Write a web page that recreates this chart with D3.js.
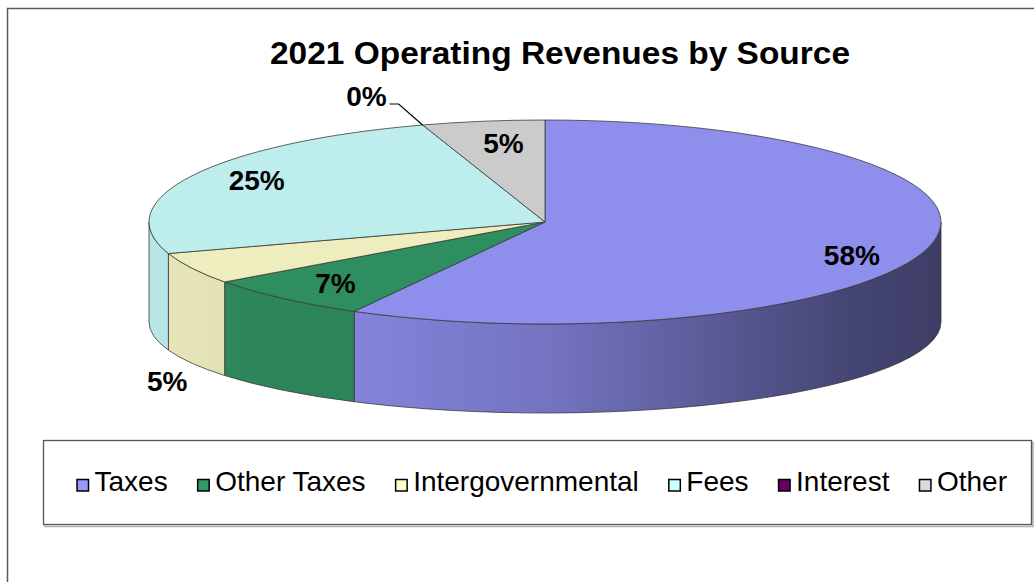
<!DOCTYPE html>
<html>
<head>
<meta charset="utf-8">
<script src="https://cdn.jsdelivr.net/npm/d3@7"></script>
<style>
  body { margin: 0; background: #fff; }
  svg { display: block; font-family: "Liberation Sans", Arial, Helvetica, sans-serif; }
</style>
</head>
<body>
<svg id="chart" width="1034" height="582"></svg>
<script>
// Revenue sources and their shares (percent)
const categories = ["Taxes", "Other Taxes", "Intergovernmental", "Fees", "Interest", "Other"];
const shares = [58, 7, 5, 25, 0, 5];
const colors = ["#9999FF", "#339966", "#FFFFCC", "#CCFFFF", "#660066", "#DADADA"];
const chartTitle = "2021 Operating Revenues by Source";

// Pie geometry: top ellipse and (perspective-flattened) bottom ellipse
const cx = 545, cy = 222, rx = 396, ry = 102;
const cyb = 322, ryb = 91;

// Label layout: slices whose labels sit outside, and small placement tweaks
const outsideLabel = {
  "Intergovernmental": { dx: -25, dy: 28 },
  "Interest": { leader: true }
};
const labelShift = { "Taxes": [0, 13], "Fees": [-6, -5], "Other": [8, 2] };

const svg = d3.select("#chart");
const defs = svg.append("defs");

// Outer chart border
svg.append("rect")
  .attr("x", 7.5).attr("y", 8.5).attr("width", 1200).attr("height", 800)
  .attr("fill", "none").attr("stroke", "#5a5a5a").attr("stroke-width", 1.5);

// Title
svg.append("text")
  .attr("x", 560).attr("y", 64)
  .attr("text-anchor", "middle")
  .attr("font-size", 32).attr("font-weight", "bold")
  .attr("textLength", 580).attr("lengthAdjust", "spacingAndGlyphs")
  .attr("fill", "#000")
  .text(chartTitle);

const pie = d3.pie().sort(null).value(d => d).startAngle(0).endAngle(2 * Math.PI);
const arcs = pie(shares).map((a, i) => ({ ...a, cat: categories[i], color: colors[i], i }));

const topPt = a => [cx + rx * Math.sin(a), cy - ry * Math.cos(a)];
const botPt = a => [cx + rx * Math.sin(a), cyb - ryb * Math.cos(a)];
const shade = (c, f) => { const r = d3.rgb(c); return d3.rgb(r.r * f, r.g * f, r.b * f).formatHex(); };

// Side gradients: light on the left, darkening toward the right
const sideStops = [[0, 0.9], [0.25, 0.86], [0.5, 0.76], [0.7, 0.6], [0.88, 0.46], [1, 0.4]];
arcs.forEach(d => {
  const g = defs.append("linearGradient")
    .attr("id", "side" + d.i)
    .attr("gradientUnits", "userSpaceOnUse")
    .attr("x1", cx - rx).attr("x2", cx + rx).attr("y1", 0).attr("y2", 0);
  sideStops.forEach(([o, f]) => g.append("stop").attr("offset", o).attr("stop-color", shade(d.color, f)));
});

const edge = "#3a3a3a";

// Front walls (only the part of each slice facing the viewer)
const pie3d = svg.append("g");
arcs.forEach(d => {
  const s = Math.max(d.startAngle, Math.PI / 2);
  const e = Math.min(d.endAngle, 3 * Math.PI / 2);
  if (e - s <= 1e-6) return;
  const t0 = topPt(s), t1 = topPt(e), b1 = botPt(e), b0 = botPt(s);
  const p = `M${t0}A${rx},${ry} 0 0 1 ${t1}L${b1}A${rx},${ryb} 0 0 0 ${b0}Z`;
  pie3d.append("path")
    .attr("d", p)
    .attr("fill", `url(#side${d.i})`)
    .attr("stroke", edge).attr("stroke-width", 0.8).attr("stroke-linejoin", "round");
});

// Top faces
arcs.forEach(d => {
  const span = d.endAngle - d.startAngle;
  if (span <= 1e-6) return;
  const p0 = topPt(d.startAngle), p1 = topPt(d.endAngle);
  const large = span > Math.PI ? 1 : 0;
  const p = `M${cx},${cy}L${p0}A${rx},${ry} 0 ${large} 1 ${p1}Z`;
  pie3d.append("path")
    .attr("d", p)
    .attr("fill", shade(d.color, 0.93))
    .attr("stroke", edge).attr("stroke-width", 0.8).attr("stroke-linejoin", "round");
});

// Percentage labels
const fmt = v => `${Math.round(v)}%`;
const labels = svg.append("g").attr("font-size", 28).attr("font-weight", "bold").attr("fill", "#000");
arcs.forEach(d => {
  const mid = (d.startAngle + d.endAngle) / 2;
  const out = outsideLabel[d.cat];
  if (out && out.leader) {
    // zero-size slice: label off the rim with a leader line
    const a = topPt(mid);
    const knee = [a[0] - 24, a[1] - 21];
    const end = [knee[0] - 9, knee[1]];
    svg.append("polyline")
      .attr("points", [a, knee, end].map(p => p.join(",")).join(" "))
      .attr("fill", "none").attr("stroke", "#000").attr("stroke-width", 1.2);
    labels.append("text")
      .attr("x", end[0] - 3).attr("y", end[1] + 2)
      .attr("text-anchor", "end")
      .text(fmt(d.data));
  } else if (out) {
    const b = botPt(mid);
    labels.append("text")
      .attr("x", b[0] + out.dx).attr("y", b[1] + out.dy)
      .attr("text-anchor", "middle")
      .text(fmt(d.data));
  } else {
    const f = 0.8;
    const sh = labelShift[d.cat] || [0, 0];
    const x = cx + f * rx * Math.sin(mid) + sh[0];
    const y = cy - f * ry * Math.cos(mid) + sh[1];
    labels.append("text")
      .attr("x", x).attr("y", y + 10)
      .attr("text-anchor", "middle")
      .text(fmt(d.data));
  }
});

// Legend box with a soft shadow
svg.append("rect")
  .attr("x", 45).attr("y", 442.5).attr("width", 988).attr("height", 84)
  .attr("fill", "none").attr("stroke", "#b0b0b0").attr("stroke-width", 1.5);
svg.append("rect")
  .attr("x", 43.5).attr("y", 440.5).attr("width", 988).attr("height", 84)
  .attr("fill", "#fff").attr("stroke", "#555").attr("stroke-width", 1.3);

const legend = svg.append("g").attr("font-size", 28).attr("fill", "#000");
const sq = 11.5, sqGap = 6, itemGap = 30;
const items = categories.map((c, i) => {
  const g = legend.append("g");
  g.append("rect")
    .attr("x", 0).attr("y", -sq).attr("width", sq).attr("height", sq)
    .attr("fill", colors[i]).attr("stroke", "#000").attr("stroke-width", 1.5);
  const t = g.append("text").attr("x", sq + sqGap).attr("y", 0).text(c);
  const w = sq + sqGap + t.node().getComputedTextLength();
  return { g, w };
});
const total = d3.sum(items, d => d.w) + itemGap * (items.length - 1);
let lx = 542 - total / 2;
items.forEach(it => {
  it.g.attr("transform", `translate(${lx},491)`);
  lx += it.w + itemGap;
});
</script>
</body>
</html>
